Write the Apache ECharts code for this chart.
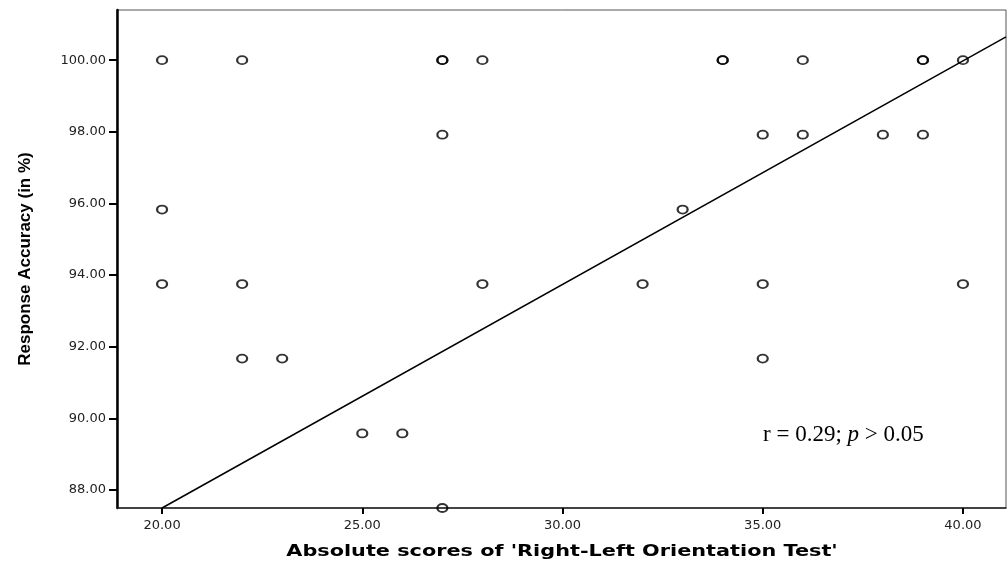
<!DOCTYPE html>
<html>
<head>
<meta charset="utf-8">
<script src="https://cdn.jsdelivr.net/npm/echarts@6/dist/echarts.min.js"></script>
<style>
html,body{margin:0;padding:0;background:#fff;}
#chart{width:1007px;height:565px;}
</style>
</head>
<body>
<div id="chart"></div>
<script>
// Absolute scores (x) and response accuracy in % (y)
const scores = [20, 22, 27, 27, 28, 34, 34, 36, 39, 39, 40,
                27, 35, 36, 38, 39,
                20, 33,
                20, 22, 28, 32, 35, 40,
                22, 23, 35,
                25, 26,
                27];
const accuracy = [100, 100, 100, 100, 100, 100, 100, 100, 100, 100, 100,
                  97.92, 97.92, 97.92, 97.92, 97.92,
                  95.83, 95.83,
                  93.75, 93.75, 93.75, 93.75, 93.75, 93.75,
                  91.67, 91.67, 91.67,
                  89.58, 89.58,
                  87.5];
// fit line endpoints
const fitX = [20, 41.075];
const fitY = [87.5, 100.65];
const xTicks = [20, 25, 30, 35, 40];
const yTicks = [88, 90, 92, 94, 96, 98, 100];
const xTitle = "Absolute scores of 'Right-Left Orientation Test'";
const yTitle = 'Response Accuracy (in %)';
const annotation = 'r = 0.29; ';

const points = scores.map((x, i) => [x, accuracy[i]]);
const fitLine = fitX.map((x, i) => [x, fitY[i]]);

const chart = echarts.init(document.getElementById('chart'));
chart.setOption({
  backgroundColor: '#fff',
  animation: false,
  grid: { left: 117, right: 1, top: 10, bottom: 57, show: true, borderColor: '#555', borderWidth: 1 },
  xAxis: {
    type: 'value', min: 18.875, max: 41.075,
    splitLine: { show: false },
    axisLine: { show: true, lineStyle: { color: '#222', width: 1.5 } },
    axisTick: { show: true, customValues: xTicks, length: 6, lineStyle: { color: '#000', width: 2 } },
    axisLabel: { customValues: xTicks, margin: 11, fontFamily: 'DejaVu Sans', fontSize: 13, color: '#222',
                 formatter: v => v.toFixed(2) }
  },
  yAxis: {
    type: 'value', min: 87.5, max: 101.4,
    name: yTitle,
    nameLocation: 'middle', nameGap: 83,
    nameTextStyle: { fontFamily: 'Liberation Sans', fontWeight: 'bold', fontSize: 17, color: '#000' },
    splitLine: { show: false },
    axisLine: { show: true, lineStyle: { color: '#000', width: 2.5 } },
    axisTick: { show: true, customValues: yTicks, length: 8, lineStyle: { color: '#000', width: 2 } },
    axisLabel: { customValues: yTicks, margin: 11, fontFamily: 'DejaVu Sans', fontSize: 13, color: '#222',
                 formatter: v => v.toFixed(2) }
  },
  series: [
    {
      type: 'line', data: fitLine, symbol: 'none', clip: true, silent: true,
      lineStyle: { color: '#000', width: 1.5 }, z: 2
    },
    {
      type: 'scatter', data: points, symbol: 'circle', symbolSize: [10, 8], clip: true,
      itemStyle: { color: 'rgba(255,255,255,0)', borderColor: '#000', borderWidth: 2 }, z: 3
    }
  ],
  graphic: [
    {
      type: 'text', x: 562, y: 552, scaleX: 1.3, scaleY: 1,
      style: {
        text: xTitle, align: 'center', verticalAlign: 'middle',
        fontFamily: 'DejaVu Sans', fontWeight: 'bold', fontSize: 16, fill: '#000'
      }
    },
    {
      type: 'text', left: 763, top: 423,
      style: {
        text: '{n|' + annotation + '}{i|p}{n| > 0.05}',
        rich: {
          n: { fontFamily: 'Liberation Serif', fontSize: 23, fill: '#000' },
          i: { fontFamily: 'Liberation Serif', fontSize: 23, fontStyle: 'italic', fill: '#000' }
        }
      }
    }
  ]
});
</script>
</body>
</html>
